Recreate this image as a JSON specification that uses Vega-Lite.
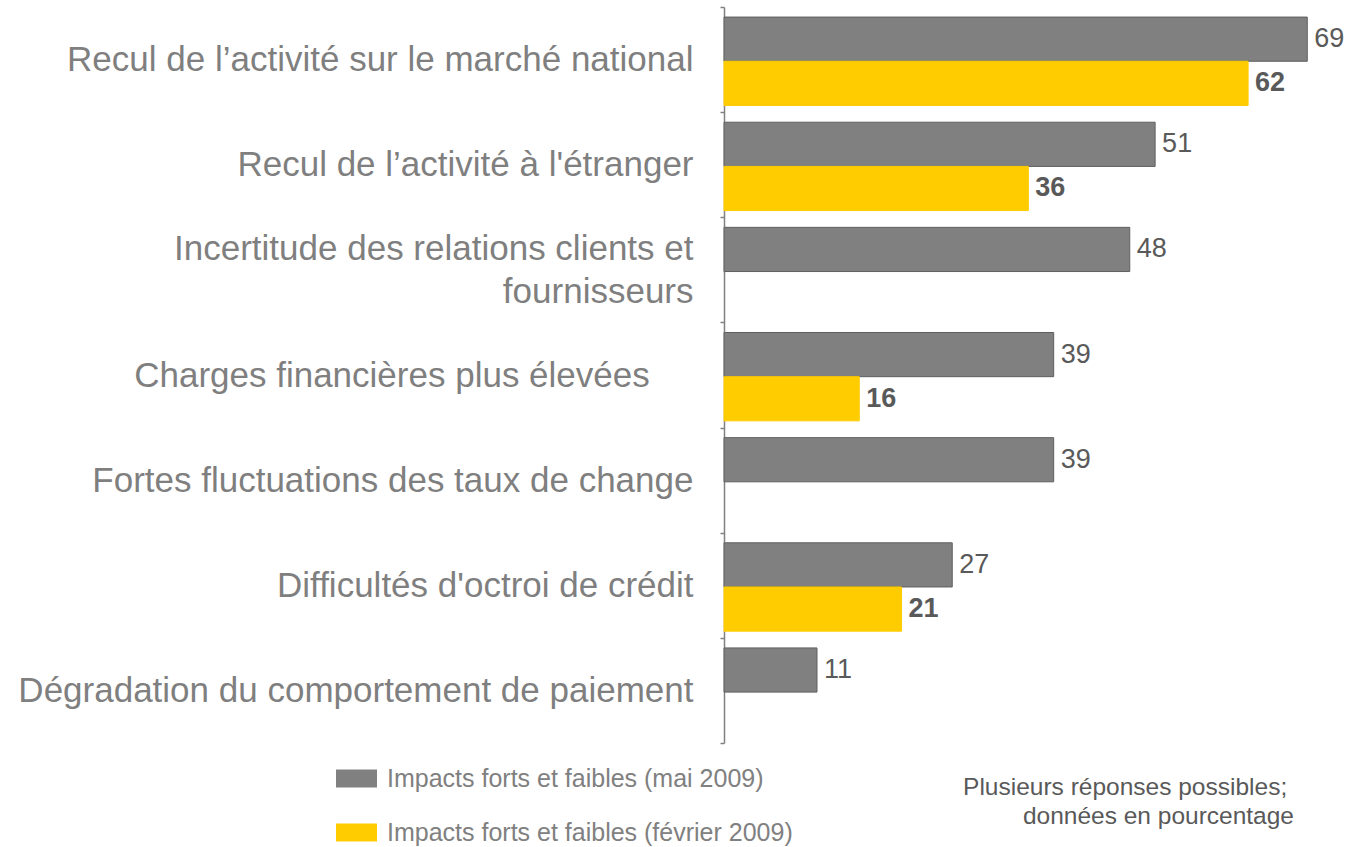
{
  "$schema": "https://vega.github.io/schema/vega-lite/v6.json",
  "autosize": "none",
  "width": 634,
  "height": 736,
  "padding": {"left": 724, "top": 7, "right": 1, "bottom": 104},
  "background": "white",
  "config": {
    "view": {"stroke": null},
    "font": "Liberation Sans"
  },
  "title": {
    "text": ["Plusieurs réponses possibles;\u00a0\u200b", "données en pourcentage"],
    "orient": "bottom",
    "anchor": "end",
    "frame": "group",
    "align": "right",
    "fontSize": 24.5,
    "fontWeight": "normal",
    "color": "#595959",
    "lineHeight": 29,
    "offset": 0,
    "dx": -64,
    "dy": -70
  },
  "data": {
    "values": [
      {"cat": "Recul de l’activité sur le marché national", "series": "Impacts forts et faibles (mai 2009)", "value": 69},
      {"cat": "Recul de l’activité sur le marché national", "series": "Impacts forts et faibles (février 2009)", "value": 62},
      {"cat": "Recul de l’activité à l'étranger", "series": "Impacts forts et faibles (mai 2009)", "value": 51},
      {"cat": "Recul de l’activité à l'étranger", "series": "Impacts forts et faibles (février 2009)", "value": 36},
      {"cat": "Incertitude des relations clients et|fournisseurs", "series": "Impacts forts et faibles (mai 2009)", "value": 48},
      {"cat": "Charges financières plus élevées\u2002\u2002\u2005\u200b", "series": "Impacts forts et faibles (mai 2009)", "value": 39},
      {"cat": "Charges financières plus élevées\u2002\u2002\u2005\u200b", "series": "Impacts forts et faibles (février 2009)", "value": 16},
      {"cat": "Fortes fluctuations des taux de change", "series": "Impacts forts et faibles (mai 2009)", "value": 39},
      {"cat": "Difficultés d'octroi de crédit", "series": "Impacts forts et faibles (mai 2009)", "value": 27},
      {"cat": "Difficultés d'octroi de crédit", "series": "Impacts forts et faibles (février 2009)", "value": 21},
      {"cat": "Dégradation du comportement de paiement", "series": "Impacts forts et faibles (mai 2009)", "value": 11}
    ]
  },
  "encoding": {
    "y": {
      "field": "cat",
      "type": "nominal",
      "sort": null,
      "scale": {"paddingInner": 0, "paddingOuter": 0},
      "axis": {
        "title": null,
        "labelExpr": "isValid(datum.value) ? split(datum.value, '|') : ''",
        "labelFontSize": 35,
        "labelColor": "#7f7f7f",
        "labelLineHeight": 43,
        "labelPadding": 27,
        "labelLimit": 800,
        "labelOffset": {"condition": {"test": "isValid(datum.value) && indexof(datum.value, '|') >= 0", "value": -21}, "value": 0},
        "tickBand": "extent",
        "tickSize": 4,
        "tickColor": "#808080",
        "domainColor": "#808080",
        "domainWidth": 1.5,
        "tickWidth": 1.5,
        "grid": false
      }
    },
    "yOffset": {
      "field": "series",
      "type": "nominal",
      "scale": {
        "domain": ["Impacts forts et faibles (mai 2009)", "Impacts forts et faibles (février 2009)"],
        "paddingInner": 0,
        "paddingOuter": 0.19,
        "align": 0.6
      }
    },
    "x": {
      "field": "value",
      "type": "quantitative",
      "scale": {"domain": [0, 75], "nice": false},
      "axis": null
    }
  },
  "layer": [
    {
      "mark": {"type": "bar", "strokeWidth": 1},
      "encoding": {
        "color": {
          "field": "series",
          "type": "nominal",
          "scale": {
            "domain": ["Impacts forts et faibles (mai 2009)", "Impacts forts et faibles (février 2009)"],
            "range": ["#808080", "#ffcc00"]
          },
          "legend": {
            "title": null,
            "orient": "none",
            "legendX": -388,
            "legendY": 751,
            "direction": "vertical",
            "labelFontSize": 25,
            "labelColor": "#808080",
            "labelLimit": 600,
            "labelOffset": 10,
            "symbolType": "M-1,-0.44H1V0.44H-1Z",
            "symbolSize": 1681,
            "symbolStrokeWidth": 0,
            "rowPadding": 20,
            "encode": {
              "symbols": {
                "update": {
                  "fill": {"signal": "datum.value === 'Impacts forts et faibles (mai 2009)' ? '#666666' : '#ffcc00'"},
                  "stroke": {"value": null},
                  "opacity": {"value": 1}
                }
              }
            }
          }
        },
        "stroke": {
          "field": "series",
          "type": "nominal",
          "scale": {
            "domain": ["Impacts forts et faibles (mai 2009)", "Impacts forts et faibles (février 2009)"],
            "range": ["#5f5f5f", "#ffcc00"]
          },
          "legend": null
        }
      }
    },
    {
      "transform": [{"filter": "datum.series === 'Impacts forts et faibles (mai 2009)'"}],
      "mark": {"type": "text", "align": "left", "baseline": "middle", "dx": 7, "fontSize": 27, "color": "#595959"},
      "encoding": {"text": {"field": "value", "type": "quantitative"}}
    },
    {
      "transform": [{"filter": "datum.series === 'Impacts forts et faibles (février 2009)'"}],
      "mark": {"type": "text", "align": "left", "baseline": "middle", "dx": 7, "fontSize": 27, "fontWeight": "bold", "color": "#595959"},
      "encoding": {"text": {"field": "value", "type": "quantitative"}}
    }
  ]
}
